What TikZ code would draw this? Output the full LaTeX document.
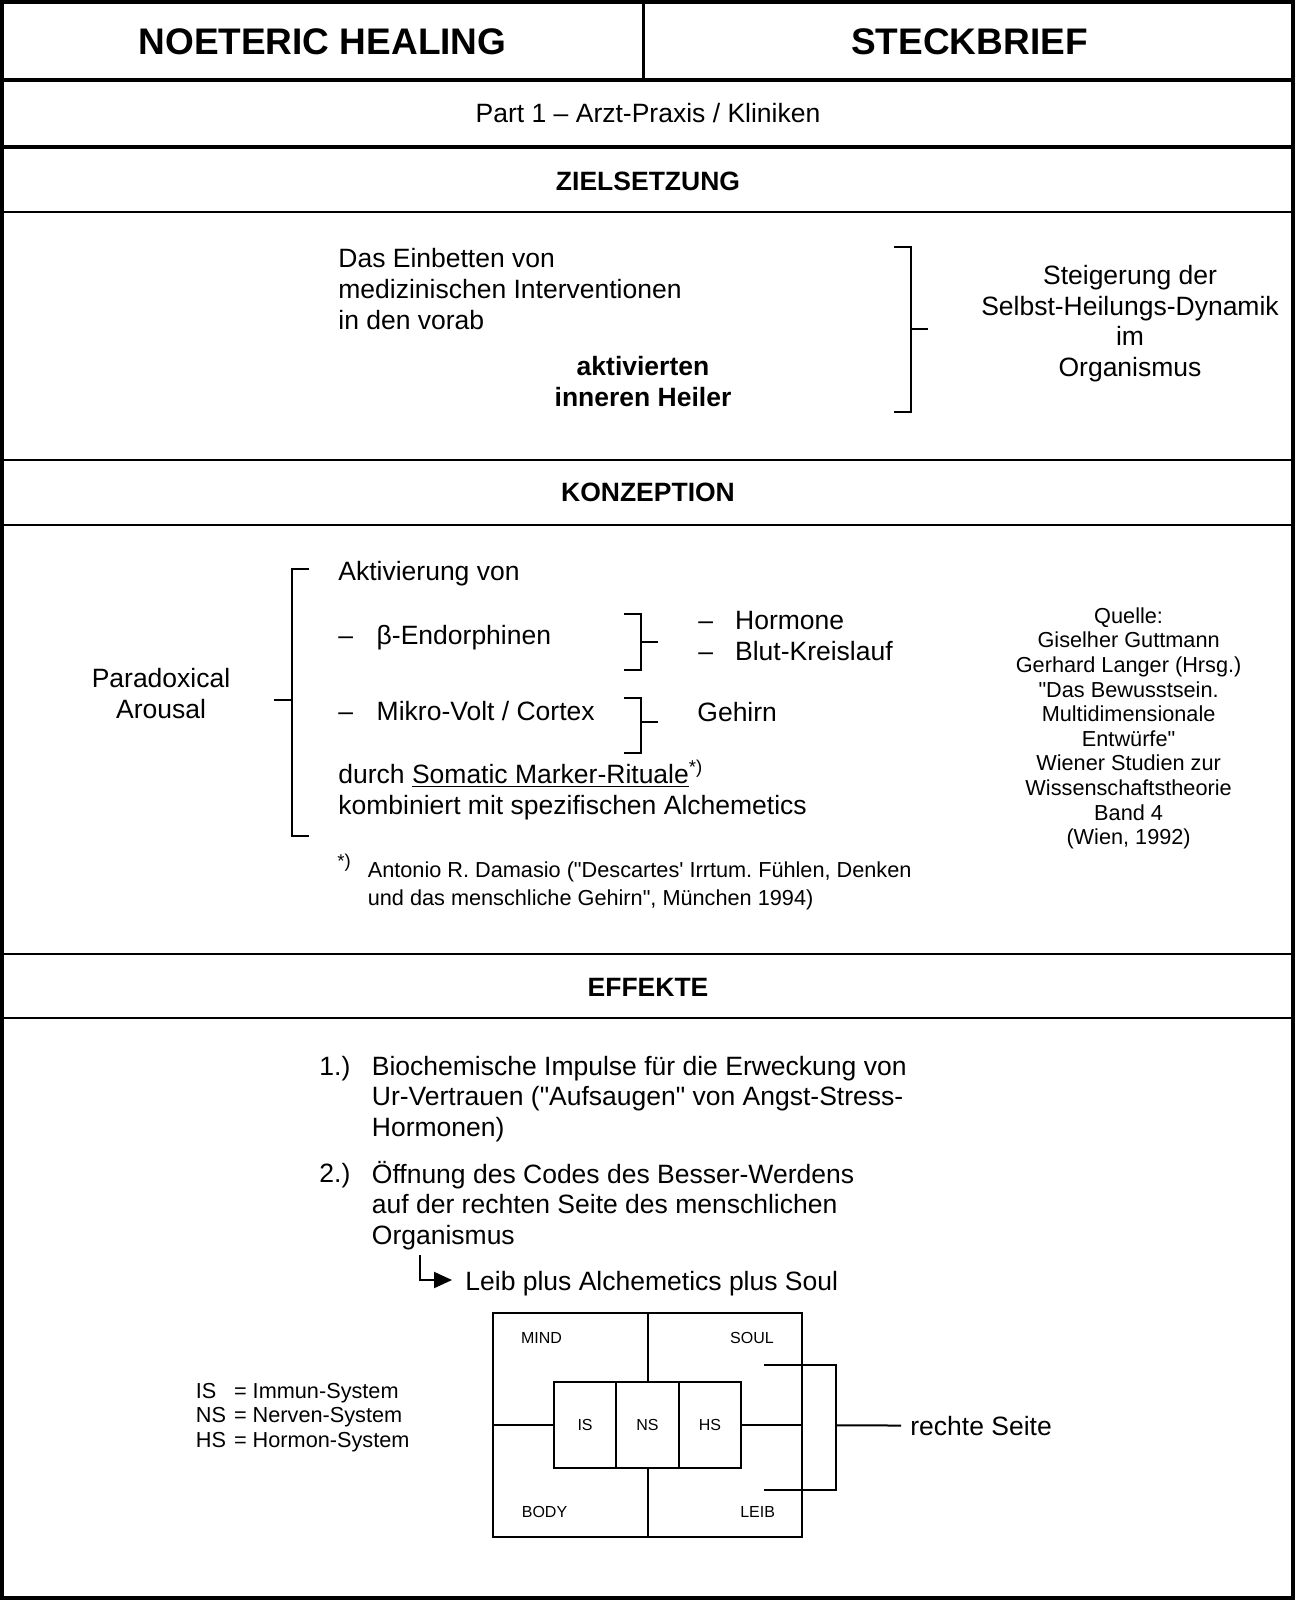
\documentclass[tikz,border=0pt]{standalone}
\usepackage{fontspec}
\setmainfont{Liberation Sans}
\usetikzlibrary{positioning, arrows.meta}
\frenchspacing

\newcommand{\titlefont}{\fontsize{18.5}{22}\selectfont\bfseries}
\newcommand{\bodyfont}{\fontsize{13.25}{15.3}\selectfont}
\newcommand{\quellefont}{\fontsize{10.85}{12.3}\selectfont}
\newcommand{\notefont}{\fontsize{10.85}{13.9}\selectfont}
\newcommand{\cellfont}{\fontsize{8}{9.6}\selectfont}
\newcommand{\qq}{\textquotedbl}

\tikzset{
	outerframe/.style={line width=2pt},
	thickrule/.style={line width=2pt},
	thinrule/.style={line width=1pt},
	brk/.style={line width=0.8pt},
	boxline/.style={line width=1pt},
	headline/.style={font=\titlefont, inner sep=0pt, anchor=base},
	heading/.style={font=\bodyfont\bfseries, inner sep=0pt, anchor=base},
	body/.style={font=\bodyfont, inner sep=0pt, anchor=base west},
	block/.style={font=\bodyfont, inner sep=0pt, anchor=north west, align=left},
	syscell/.style={draw, line width=1pt, outer sep=0pt, inner sep=0pt,
		minimum width=31.2pt, minimum height=43.25pt, font=\cellfont},
	quadlabel/.style={font=\cellfont, inner sep=0pt, anchor=base}
}

\begin{document}
\begin{tikzpicture}[x=0.5pt, y=-0.5pt]
	\useasboundingbox (0,0) rectangle (1295,1600);

	% Add the table rules
	\draw[thickrule] (0,80) -- (1295,80);
	\draw[thickrule] (0,147) -- (1295,147);
	\draw[line width=1.5pt] (643,0) -- (643,80);
	\draw[thinrule] (0,212) -- (1295,212);
	\draw[thinrule] (0,460) -- (1295,460);
	\draw[thinrule] (0,525) -- (1295,525);
	\draw[thinrule] (0,954) -- (1295,954);
	\draw[thinrule] (0,1018) -- (1295,1018);

	% Add the headers
	\node[headline] (noetic) at (322.5,54.3) {NOETERIC HEALING};
	\node[headline] (steck) at (969.5,54.3) {STECKBRIEF};
	\node[heading,
		font=\bodyfont] (part) at (648,122.5) {Part 1 – Arzt-Praxis / Kliniken};
	\node[heading] (ziel) at (648,190) {ZIELSETZUNG};
	\node[heading] (konz) at (648,501.5) {KONZEPTION};
	\node[heading] (effekte) at (648,996.5) {EFFEKTE};

	% Zielsetzung
	\node[block] (einbetten) at (338,246.1)
		{\strut Das Einbetten von\\medizinischen Interventionen\\in den vorab};
	\node[block,
		anchor=north,
		align=center,
		font=\bodyfont\bfseries] (heiler) at (643,354.1)
		{\strut aktivierten\\inneren Heiler};
	\node[block,
		anchor=north,
		align=center] (steigerung) at (1130,262.6)
		{\strut Steigerung der\\Selbst-Heilungs-Dynamik\\im\\Organismus};
	\draw[brk] (894,247) -- (911,247) -- (911,412) -- (894,412)
		(911,329) -- (928,329);

	% Konzeption
	\node[block,
		anchor=north,
		align=center] (paradox) at (161,666.1) {\strut Paradoxical\\Arousal};
	\node[body] (aktiv) at (338,580) {Aktivierung von};
	\node[body] (dasha) at (338,644.5) {–};
	\node[body, base right=11.4pt of dasha] (endorph) {β-Endorphinen};
	\node[body] (dashb) at (698,629) {–};
	\node[body, base right=10.6pt of dashb] (hormone) {Hormone};
	\node[body] (dashc) at (698,660.5) {–};
	\node[body, base right=10.6pt of dashc] (blut) {Blut-Kreislauf};
	\node[body] (dashd) at (338,720.5) {–};
	\node[body, base right=11.4pt of dashd] (mikro) {Mikro-Volt / Cortex};
	\node[body] (gehirn) at (697,721.5) {Gehirn};
	\node[body] (durch) at (338,783.5)
		{durch \underline{Somatic Marker-Rituale}\textsuperscript{*)}};
	\node[body] (kombi) at (338,814.5) {kombiniert mit spezifischen Alchemetics};
	\node[body] (fnmark) at (337,878) {\textsuperscript{*)}};
	\node[block, font=\notefont] (damasio) at (367.4,857.8)
		{\strut Antonio R. Damasio (\qq Descartes\textquotesingle{} Irrtum. Fühlen, Denken\\und das menschliche Gehirn\qq, München 1994)};
	\node[block,
		anchor=north,
		align=center,
		font=\quellefont] (quelle) at (1128.6,605.6)
		{\strut Quelle:\\Giselher Guttmann\\Gerhard Langer (Hrsg.)\\\qq Das Bewusstsein.\\Multidimensionale\\Entwürfe\qq\\Wiener Studien zur\\Wissenschaftstheorie\\Band 4\\(Wien, 1992)};
	\draw[brk] (309,569) -- (292,569) -- (292,836) -- (309,836)
		(274,700) -- (292,700);
	\draw[brk] (624,614) -- (641,614) -- (641,670) -- (624,670)
		(641,642) -- (658,642);
	\draw[brk] (624,698) -- (641,698) -- (641,753) -- (624,753)
		(641,722) -- (658,722);

	% Effekte
	\node[body] (num1) at (319,1075) {1.)};
	\node[block] (impulse) at (371.5,1053.5)
		{\strut Biochemische Impulse für die Erweckung von\\Ur-Vertrauen (\qq Aufsaugen\qq{} von Angst-Stress-\\Hormonen)};
	\node[body] (num2) at (319,1182) {2.)};
	\node[block] (oeffnung) at (371.5,1160.7)
		{\strut Öffnung des Codes des Besser-Werdens\\auf der rechten Seite des menschlichen\\Organismus};
	\node[body] (leib) at (465,1290.5) {Leib plus Alchemetics plus Soul};
	\coordinate (arrtop) at (419.5,1255);
	\draw[line width=1pt, -{Triangle[length=9pt,width=8pt]}]
		(arrtop) |- ([xshift=-6.5pt,yshift=5.25pt]leib.base west);

	% Legend
	\node[anchor=north west, inner sep=0pt, font=\quellefont] (legende) at (195.5,1380.6)
		{\begin{tabular}{@{}l@{\hspace{4pt}}l@{}}IS & = Immun-System\\NS & = Nerven-System\\HS & = Hormon-System\end{tabular}};

	% Add the quadrant box
	\node[draw,
		boxline,
		outer sep=0pt,
		minimum width=154.5pt,
		minimum height=112pt] (quad) at (647.5,1425) {};
	\node[syscell] (ns) at (quad.center) {NS};
	\node[syscell, left=0pt of ns] (is) {IS};
	\node[syscell, right=0pt of ns] (hs) {HS};
	\draw[boxline]
		(quad.north) -- (ns.north)
		(ns.south) -- (quad.south)
		(quad.west) -- (is.west)
		(hs.east) -- (quad.east);
	\node[quadlabel] (mind) at (541.5,1343.5) {MIND};
	\node[quadlabel] (soul) at (752,1343.5) {SOUL};
	\node[quadlabel] (body) at (544.5,1517.5) {BODY};
	\node[quadlabel] (leibq) at (757.6,1517.5) {LEIB};

	% Right side bracket
	\draw[boxline] (764,1365) -- (836,1365) -- (836,1490) -- (764,1490);
	\node[body] (rechte) at (910,1435) {rechte Seite};
	\coordinate (brkmid) at (836,1425.3);
	\draw[boxline] (brkmid) -- ([xshift=-4.5pt]rechte.west);

	% Outer frame
	\draw[outerframe] (2,2) rectangle (1293,1598);
\end{tikzpicture}
\end{document}
